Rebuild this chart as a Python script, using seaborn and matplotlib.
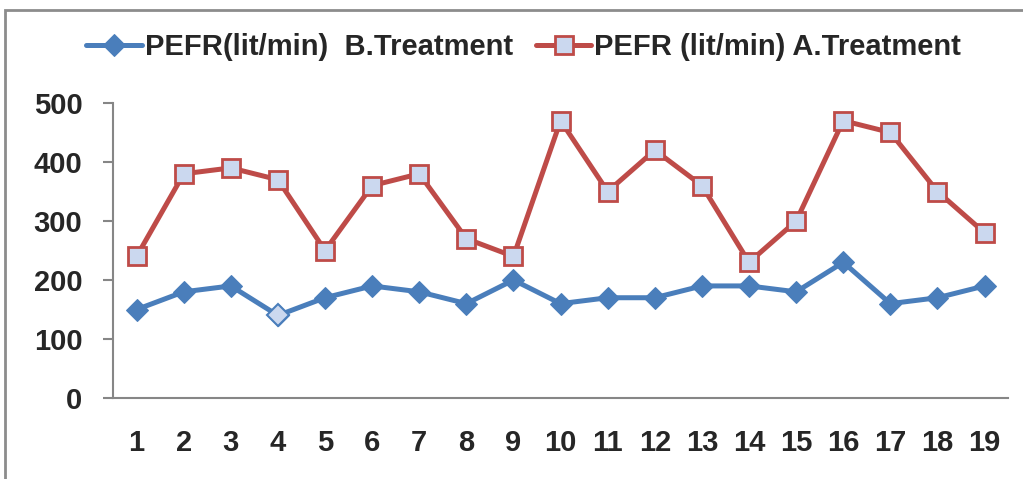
import matplotlib
matplotlib.use("Agg")
import matplotlib.pyplot as plt
import seaborn as sns
import pandas as pd
from matplotlib.patches import Rectangle

# Peak expiratory flow rate per patient, before and after treatment
patients = list(range(1, 20))
pefr_before = [150, 180, 190, 140, 170, 190, 180, 160, 200, 160,
               170, 170, 190, 190, 180, 230, 160, 170, 190]
pefr_after = [240, 380, 390, 370, 250, 360, 380, 270, 240, 470,
              350, 420, 360, 230, 300, 470, 450, 350, 280]
label_before = "PEFR(lit/min)  B.Treatment"
label_after = "PEFR (lit/min) A.Treatment"
y_ticks = [0, 100, 200, 300, 400, 500]

sns.set_style("white")
plt.rcParams["font.family"] = ["Liberation Sans", "DejaVu Sans"]
plt.rcParams["font.weight"] = "bold"

blue = "#4a7ebb"
red = "#be4b48"
light_fill = "#cbd8ef"
axis_grey = "#868686"
fs = 21

fig = plt.figure(figsize=(10.23, 4.79), dpi=100)
ax = fig.add_axes([0.1105, 0.169, 0.875, 0.616])

df = pd.DataFrame({"patient": patients, "before": pefr_before, "after": pefr_after})

sns.lineplot(data=df, x="patient", y="before", ax=ax, color=blue, lw=3.6,
             marker="D", markersize=11.5, markerfacecolor=blue,
             markeredgecolor=blue, label=label_before, clip_on=False)
sns.lineplot(data=df, x="patient", y="after", ax=ax, color=red, lw=3.6,
             marker="s", markersize=13, markerfacecolor=light_fill,
             markeredgecolor=red, markeredgewidth=2, label=label_after,
             clip_on=False)

# the fourth patient's baseline point carries a lighter fill
i4 = patients.index(4)
ax.plot([patients[i4]], [pefr_before[i4]], marker="D", markersize=11.5,
        markerfacecolor=light_fill, markeredgecolor=blue, markeredgewidth=1.5,
        linestyle="none", zorder=5, clip_on=False)

ax.set_xlim(0.5, 19.5)
ax.set_ylim(0, 500)
ax.set_xlabel("")
ax.set_ylabel("")

ax.set_xticks(patients)
ax.set_xticklabels([str(p) for p in patients], fontsize=fs, fontweight="bold")
ax.set_xticks([p + 0.5 for p in [0] + patients], minor=True)
ax.tick_params(axis="x", which="major", length=0, pad=22)
ax.tick_params(axis="x", which="minor", length=7, width=1.5, color=axis_grey,
               direction="out")

ax.set_yticks(y_ticks)
ax.set_yticklabels([str(v) for v in y_ticks], fontsize=fs, fontweight="bold")
ax.tick_params(axis="y", length=7, width=1.5, color=axis_grey, direction="out",
               pad=15, left=True)

for side in ["top", "right"]:
    ax.spines[side].set_visible(False)
for side in ["left", "bottom"]:
    ax.spines[side].set_color(axis_grey)
    ax.spines[side].set_linewidth(1.5)

ax.get_legend().remove()
handles, labels = ax.get_legend_handles_labels()
fig.legend(handles[:2], labels[:2], loc="center", ncol=2,
           bbox_to_anchor=(0.512, 0.902), frameon=False,
           prop={"size": fs, "weight": "bold"}, handlelength=1.9,
           handletextpad=0.1, columnspacing=0.8)

# outer chart border
fig.patches.append(Rectangle((5 / 1023, -0.1), 1.2, 1 - 10 / 479 + 0.1,
                             transform=fig.transFigure, fill=False,
                             edgecolor="#8c8c8c", linewidth=2))

fig.savefig("out.png", dpi=100)
